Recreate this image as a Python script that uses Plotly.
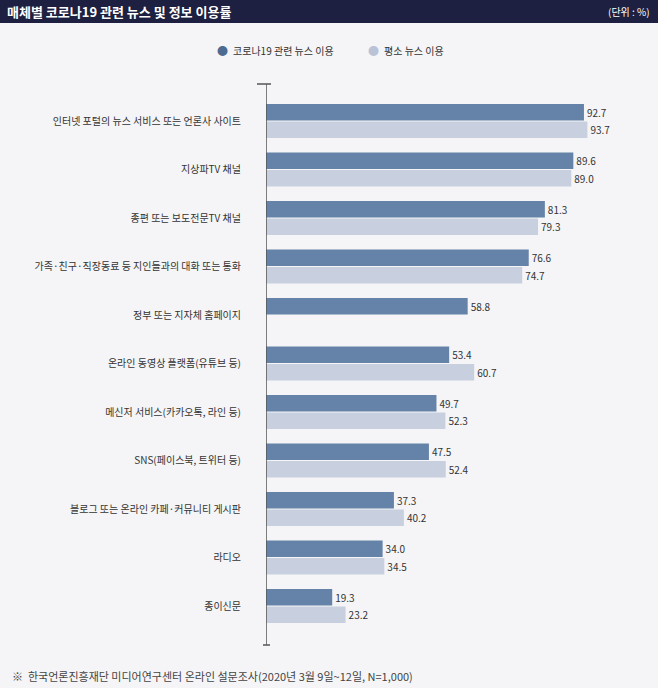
import plotly.graph_objects as go

categories = [
    "인터넷 포털의 뉴스 서비스 또는 언론사 사이트",
    "지상파TV 채널",
    "종편 또는 보도전문TV 채널",
    "가족·친구·직장동료 등 지인들과의 대화 또는 통화",
    "정부 또는 지자체 홈페이지",
    "온라인 동영상 플랫폼(유튜브 등)",
    "메신저 서비스(카카오톡, 라인 등)",
    "SNS(페이스북, 트위터 등)",
    "블로그 또는 온라인 카페·커뮤니티 게시판",
    "라디오",
    "종이신문",
]
covid_news = [92.7, 89.6, 81.3, 76.6, 58.8, 53.4, 49.7, 47.5, 37.3, 34.0, 19.3]
usual_news = [93.7, 89.0, 79.3, 74.7, None, 60.7, 52.3, 52.4, 40.2, 34.5, 23.2]
series_names = ["코로나19 관련 뉴스 이용", "평소 뉴스 이용"]

FONT = "Noto Sans CJK KR"
DARK = "#6583a8"
LIGHT = "#c8cfde"
BG = "#f5f5f7"

fig = go.Figure()
for name, vals, col in [(series_names[0], covid_news, DARK), (series_names[1], usual_news, LIGHT)]:
    fig.add_trace(go.Bar(
        y=categories, x=vals, orientation="h", name=name,
        marker=dict(color=col, line=dict(width=0)),
        text=[("" if v is None else f"{v:.1f}") for v in vals],
        textposition="outside", cliponaxis=False,
        textfont=dict(family=FONT, size=10, color="#333333"),
        showlegend=False,
    ))

fig.update_layout(
    width=658, height=688,
    margin=dict(l=266, r=49, t=84, b=43),
    paper_bgcolor=BG, plot_bgcolor=BG,
    barmode="group", bargap=0.28, bargroupgap=0.06,
    font=dict(family=FONT, size=10, color="#333333"),
    xaxis=dict(range=[0, 100], visible=False),
    yaxis=dict(
        type="category", range=[10.804, -0.763],
        showline=False, showgrid=False, zeroline=False,
        ticks="", ticklabelstandoff=24,
        tickfont=dict(family=FONT, size=10, color="#333333"),
    ),
    uniformtext=dict(mode=False),
)

# axis line with end caps
fig.add_shape(type="line", xref="x", yref="paper", x0=0, x1=0, y0=0, y1=1,
              line=dict(color="#555555", width=1.5))
fig.add_shape(type="line", xref="paper", yref="paper", x0=-9/343, x1=5/343, y0=1, y1=1,
              line=dict(color="#555555", width=1.5))
fig.add_shape(type="line", xref="paper", yref="paper", x0=-3/343, x1=4/343, y0=0, y1=0,
              line=dict(color="#555555", width=1.5))

# title bar
fig.add_shape(type="rect", xref="paper", yref="paper",
              x0=-266/343, x1=(343+49)/343, y0=1 + (84-23)/561, y1=1 + 84/561 + 0.01,
              fillcolor="#1d2040", line=dict(width=0), layer="below")
fig.add_annotation(xref="paper", yref="paper", x=-261/343, y=1 + (84-11.5)/561,
                   text="<b>매체별 코로나19 관련 뉴스 및 정보 이용률</b>", showarrow=False,
                   xanchor="left", yanchor="middle",
                   font=dict(family=FONT, size=13, color="white"))
fig.add_annotation(xref="paper", yref="paper", x=(343+49-6)/343, y=1 + (84-11.5)/561,
                   text="(단위 : %)", showarrow=False, xanchor="right", yanchor="middle",
                   font=dict(family=FONT, size=10, color="white"))

# legend
leg_y = 1 + (84-50)/561
for mx, col, ring, label in [(222, DARK, "#4d6b91", series_names[0]), (373, LIGHT, "#b9c2d6", series_names[1])]:
    fig.add_annotation(xref="paper", yref="paper", x=(mx-266)/343, y=leg_y,
                       text="●", showarrow=False, xanchor="center", yanchor="middle",
                       font=dict(size=11, color=ring))
    fig.add_annotation(xref="paper", yref="paper", x=(mx+9-266)/343, y=leg_y,
                       text=label, showarrow=False, xanchor="left", yanchor="middle",
                       font=dict(family=FONT, size=10, color="#333333"))

# footnote
fig.add_annotation(xref="paper", yref="paper", x=-256/343, y=-(676-645)/561,
                   text="※  한국언론진흥재단 미디어연구센터 온라인 설문조사(2020년 3월 9일~12일, N=1,000)",
                   showarrow=False, xanchor="left", yanchor="middle",
                   font=dict(family=FONT, size=11, color="#444444"))

fig.write_html("out.html", config={"displayModeBar": False},
               post_script="document.body.style.margin='0';document.body.style.background='%s';" % BG)
